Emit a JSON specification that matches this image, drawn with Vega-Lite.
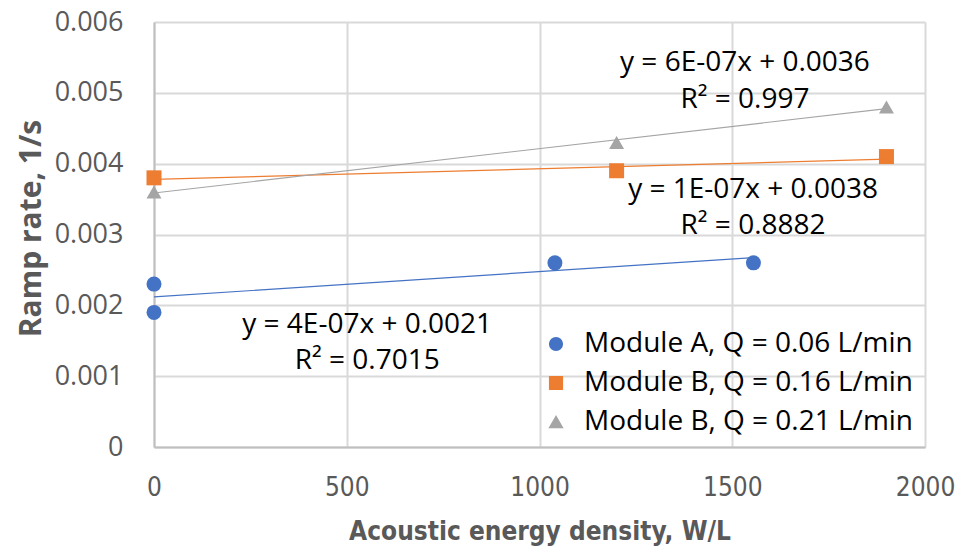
{
  "$schema": "https://vega.github.io/schema/vega-lite/v6.json",
  "width": 771,
  "height": 425,
  "autosize": {"type": "none"},
  "padding": {"left": 154, "top": 22, "right": 40, "bottom": 105},
  "background": "white",
  "config": {
    "view": {"stroke": null},
    "font": "Open Sans"
  },
  "datasets": {
    "pts": [
      {"x": 0, "y": 0.0023, "series": "Module A, Q = 0.06 L/min"},
      {"x": 0, "y": 0.0019, "series": "Module A, Q = 0.06 L/min"},
      {"x": 1040, "y": 0.0026, "series": "Module A, Q = 0.06 L/min"},
      {"x": 1555, "y": 0.0026, "series": "Module A, Q = 0.06 L/min"},
      {"x": 0, "y": 0.0038, "series": "Module B, Q = 0.16 L/min"},
      {"x": 1200, "y": 0.0039, "series": "Module B, Q = 0.16 L/min"},
      {"x": 1900, "y": 0.0041, "series": "Module B, Q = 0.16 L/min"},
      {"x": 0, "y": 0.0036, "series": "Module B, Q = 0.21 L/min"},
      {"x": 1200, "y": 0.0043, "series": "Module B, Q = 0.21 L/min"},
      {"x": 1900, "y": 0.0048, "series": "Module B, Q = 0.21 L/min"}
    ],
    "notes": [
      {"x": 1533, "y": 0.00542, "label": "y = 6E-07x + 0.0036"},
      {"x": 1533, "y": 0.00490, "label": "R² = 0.997"},
      {"x": 1554, "y": 0.00363, "label": "y = 1E-07x + 0.0038"},
      {"x": 1554, "y": 0.00312, "label": "R² = 0.8882"},
      {"x": 553, "y": 0.00172, "label": "y = 4E-07x + 0.0021"},
      {"x": 553, "y": 0.00121, "label": "R² = 0.7015"}
    ]
  },
  "layer": [
    {
      "data": {"name": "pts"},
      "mark": {"type": "point", "filled": true, "opacity": 1, "size": 225},
      "encoding": {
        "x": {
          "field": "x", "type": "quantitative",
          "scale": {"domain": [0, 2000], "nice": false},
          "axis": {
            "values": [0, 500, 1000, 1500, 2000],
            "format": "d",
            "title": "Acoustic energy density, W/L",
            "titleFont": "DejaVu Sans Condensed", "titleFontSize": 26, "titleFontWeight": "bold", "titleColor": "#595959",
            "titlePadding": 18,
            "labelFont": "DejaVu Sans Condensed", "labelFontSize": 26, "labelColor": "#595959", "labelPadding": 27,
            "labelFlush": false,
            "ticks": false, "domainColor": "#BFBFBF", "domainWidth": 2,
            "grid": true, "gridColor": "#D9D9D9", "gridWidth": 2
          }
        },
        "y": {
          "field": "y", "type": "quantitative",
          "scale": {"domain": [0, 0.006], "nice": false},
          "axis": {
            "values": [0, 0.001, 0.002, 0.003, 0.004, 0.005, 0.006],
            "labelExpr": "datum.value == 0 ? '0' : format(datum.value, '.3f')",
            "title": "Ramp rate, 1/s",
            "titleFont": "Open Sans", "titleFontSize": 30, "titleFontWeight": "bold", "titleColor": "#595959",
            "titlePadding": 8, "titleY": 206,
            "labelFont": "Open Sans", "labelFontSize": 27, "labelColor": "#595959", "labelPadding": 31,
            "labelFlush": false,
            "ticks": false, "domainColor": "#BFBFBF", "domainWidth": 2,
            "grid": true, "gridColor": "#D9D9D9", "gridWidth": 2
          }
        },
        "color": {
          "field": "series", "type": "nominal",
          "scale": {"domain": ["Module A, Q = 0.06 L/min", "Module B, Q = 0.16 L/min", "Module B, Q = 0.21 L/min"], "range": ["#4472C4", "#ED7D31", "#A5A5A5"]},
          "legend": {"orient": "bottom-right", "offset": 11, "padding": 0, "title": null, "labelFontSize": 28, "labelLimit": 500, "labelColor": "#000000", "symbolSize": 160, "rowPadding": 11, "labelOffset": 14}
        },
        "shape": {
          "field": "series", "type": "nominal",
          "scale": {"domain": ["Module A, Q = 0.06 L/min", "Module B, Q = 0.16 L/min", "Module B, Q = 0.21 L/min"], "range": ["circle", "square", "triangle-up"]},
          "legend": {"orient": "bottom-right", "offset": 11, "padding": 0, "title": null, "labelFontSize": 28, "labelLimit": 500, "labelColor": "#000000", "symbolSize": 160, "rowPadding": 11, "labelOffset": 14}
        }
      }
    },
    {
      "data": {"name": "pts"},
      "transform": [{"regression": "y", "on": "x", "groupby": ["series"]}],
      "mark": {"type": "line", "strokeWidth": 1.2},
      "encoding": {
        "x": {"field": "x", "type": "quantitative"},
        "y": {"field": "y", "type": "quantitative"},
        "stroke": {
          "field": "series", "type": "nominal", "legend": null,
          "scale": {"domain": ["Module A, Q = 0.06 L/min", "Module B, Q = 0.16 L/min", "Module B, Q = 0.21 L/min"], "range": ["#4472C4", "#ED7D31", "#A5A5A5"]}
        }
      }
    },
    {
      "data": {"name": "notes"},
      "mark": {"type": "text", "fontSize": 28, "font": "Open Sans", "color": "#000000", "align": "center", "baseline": "middle"},
      "encoding": {
        "x": {"field": "x", "type": "quantitative"},
        "y": {"field": "y", "type": "quantitative"},
        "text": {"field": "label"}
      }
    }
  ]
}
